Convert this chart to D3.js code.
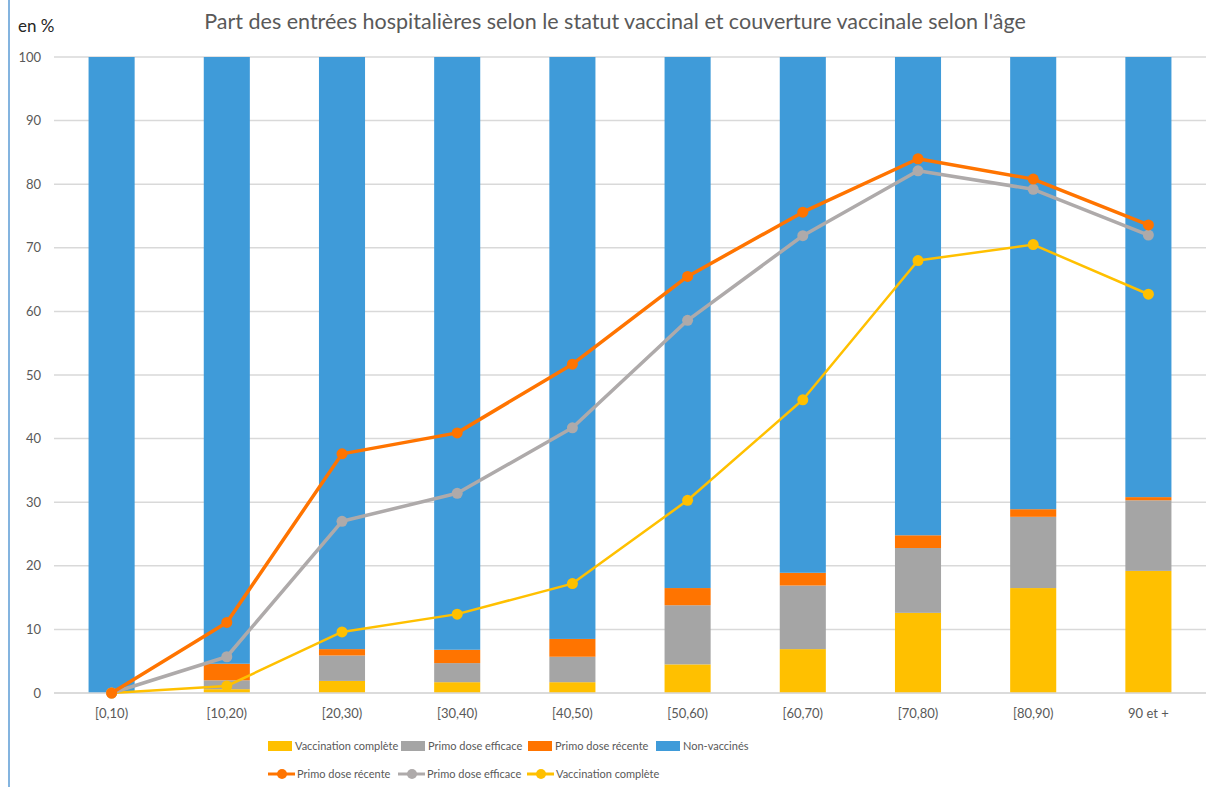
<!DOCTYPE html>
<html>
<head>
<meta charset="utf-8">
<script src="https://cdn.jsdelivr.net/npm/d3@7"></script>
<style>
  body { margin: 0; background: #fff; }
  svg { font-family: Lato, 'Open Sans', sans-serif; }
</style>
</head>
<body>
<div id="chart"></div>
<script>
const categories = ['[0,10)', '[10,20)', '[20,30)', '[30,40)', '[40,50)', '[50,60)', '[60,70)', '[70,80)', '[80,90)', '90 et +']

// stacked bars: share of hospital admissions by vaccination status
const barComplete = [0, 0.6, 1.9, 1.7, 1.7, 4.5, 6.9, 12.6, 16.5, 19.2]
const barEfficace = [0, 1.4, 4.0, 3.0, 4.0, 9.3, 10.0, 10.2, 11.2, 11.1]
const barRecente = [0, 2.6, 1.0, 2.1, 2.8, 2.7, 2.0, 2.0, 1.2, 0.5]

// lines: vaccination coverage by age
const lineRecente = [0, 11.1, 37.6, 40.9, 51.7, 65.5, 75.6, 84.0, 80.8, 73.6]
const lineEfficace = [0, 5.7, 27.0, 31.4, 41.7, 58.6, 71.9, 82.1, 79.2, 72.0]
const lineComplete = [0, 1.1, 9.6, 12.4, 17.2, 30.3, 46.1, 68.0, 70.5, 62.7]

const yTicks = [0, 10, 20, 30, 40, 50, 60, 70, 80, 90, 100]

const colors = {
  complete: '#ffc000',
  efficace: '#a5a5a5',
  recente: '#ff7400',
  non: '#3f9bd9',
  lineEfficace: '#aeaaaa'
}

const width = 1218
const height = 787
const margin = { top: 57, right: 12, bottom: 94, left: 54 }

const svg = d3.select('#chart')
  .append('svg')
  .attr('width', width)
  .attr('height', height)

// left border line
svg.append('line')
  .attr('x1', 9).attr('x2', 9).attr('y1', 0).attr('y2', height)
  .attr('stroke', '#5b9bd5').attr('stroke-width', 1.5)

const x = d3.scaleBand()
  .domain(categories)
  .range([margin.left, width - margin.right])
  .paddingInner(0.6)
  .paddingOuter(0.3)

const y = d3.scaleLinear()
  .domain([0, 100])
  .range([height - margin.bottom, margin.top])

// gridlines
svg.append('g')
  .selectAll('line')
  .data(yTicks)
  .join('line')
  .attr('x1', margin.left)
  .attr('x2', width - margin.right)
  .attr('y1', d => y(d))
  .attr('y2', d => y(d))
  .attr('stroke', '#d9d9d9')
  .attr('stroke-width', 1.5)

// y labels
svg.append('g')
  .selectAll('text')
  .data(yTicks)
  .join('text')
  .attr('x', 41)
  .attr('y', d => y(d))
  .attr('dy', '0.35em')
  .attr('text-anchor', 'end')
  .attr('fill', '#595959')
  .attr('font-size', 13)
  .text(d => d)

// stacked bars
const rows = categories.map((c, i) => ({
  cat: c,
  complete: barComplete[i],
  efficace: barEfficace[i],
  recente: barRecente[i],
  non: 100 - barComplete[i] - barEfficace[i] - barRecente[i]
}))
const keys = ['complete', 'efficace', 'recente', 'non']
const stack = d3.stack().keys(keys)(rows)

svg.append('g')
  .selectAll('g')
  .data(stack)
  .join('g')
  .attr('fill', d => colors[d.key])
  .selectAll('rect')
  .data(d => d)
  .join('rect')
  .attr('x', d => x(d.data.cat))
  .attr('width', x.bandwidth())
  .attr('y', d => y(d[1]))
  .attr('height', d => y(d[0]) - y(d[1]))

// baseline
svg.append('line')
  .attr('x1', margin.left).attr('x2', width - margin.right)
  .attr('y1', y(0)).attr('y2', y(0))
  .attr('stroke', '#d9d9d9').attr('stroke-width', 1.5)

// x labels
svg.append('g')
  .selectAll('text')
  .data(categories)
  .join('text')
  .attr('x', d => x(d) + x.bandwidth() / 2)
  .attr('y', y(0) + 25)
  .attr('text-anchor', 'middle')
  .attr('fill', '#595959')
  .attr('font-size', 13)
  .text(d => d)

// lines (drawn bottom to top so orange sits above grey)
const lineSeries = [
  { name: 'Primo dose récente', values: lineRecente, color: colors.recente, w: 3.5 },
  { name: 'Primo dose efficace', values: lineEfficace, color: colors.lineEfficace, w: 3.5 },
  { name: 'Vaccination complète', values: lineComplete, color: colors.complete, w: 2.5 }
]

const line = d3.line()
  .x((d, i) => x(categories[i]) + x.bandwidth() / 2)
  .y(d => y(d))

lineSeries.slice().reverse().forEach(s => {
  const g = svg.append('g')
  g.append('path')
    .datum(s.values)
    .attr('fill', 'none')
    .attr('stroke', s.color)
    .attr('stroke-width', s.w)
    .attr('stroke-linejoin', 'round')
    .attr('d', line)
  g.selectAll('circle')
    .data(s.values)
    .join('circle')
    .attr('cx', (d, i) => x(categories[i]) + x.bandwidth() / 2)
    .attr('cy', d => y(d))
    .attr('r', 5.5)
    .attr('fill', s.color)
})

// title
svg.append('text')
  .attr('x', 615)
  .attr('y', 29)
  .attr('text-anchor', 'middle')
  .attr('fill', '#595959')
  .attr('font-size', 21.5)
  .text("Part des entrées hospitalières selon le statut vaccinal et couverture vaccinale selon l'âge")

svg.append('text')
  .attr('x', 18)
  .attr('y', 32)
  .attr('fill', '#262626')
  .attr('font-size', 17)
  .text('en %')

// legend row 1 (bars)
const barLegend = [
  { label: 'Vaccination complète', color: colors.complete, x: 268 },
  { label: 'Primo dose efficace', color: colors.efficace, x: 401 },
  { label: 'Primo dose récente', color: colors.recente, x: 528 },
  { label: 'Non-vaccinés', color: colors.non, x: 656 }
]
const leg1 = svg.append('g').selectAll('g').data(barLegend).join('g')
  .attr('transform', d => `translate(${d.x},746)`)
leg1.append('rect')
  .attr('x', 0).attr('y', -5).attr('width', 24).attr('height', 10)
  .attr('fill', d => d.color)
leg1.append('text')
  .attr('x', 27).attr('dy', '0.35em')
  .attr('fill', '#595959').attr('font-size', 11)
  .text(d => d.label)

// legend row 2 (lines)
const lineLegend = lineSeries.map((s, i) => ({ ...s, x: [268, 398, 527][i] }))
const leg2 = svg.append('g').selectAll('g').data(lineLegend).join('g')
  .attr('transform', d => `translate(${d.x},774)`)
leg2.append('line')
  .attr('x1', 0).attr('x2', 27)
  .attr('stroke', d => d.color).attr('stroke-width', 3)
leg2.append('circle')
  .attr('cx', 14).attr('r', 5)
  .attr('fill', d => d.color)
leg2.append('text')
  .attr('x', 29).attr('dy', '0.35em')
  .attr('fill', '#595959').attr('font-size', 11)
  .text(d => d.name)
</script>
</body>
</html>
